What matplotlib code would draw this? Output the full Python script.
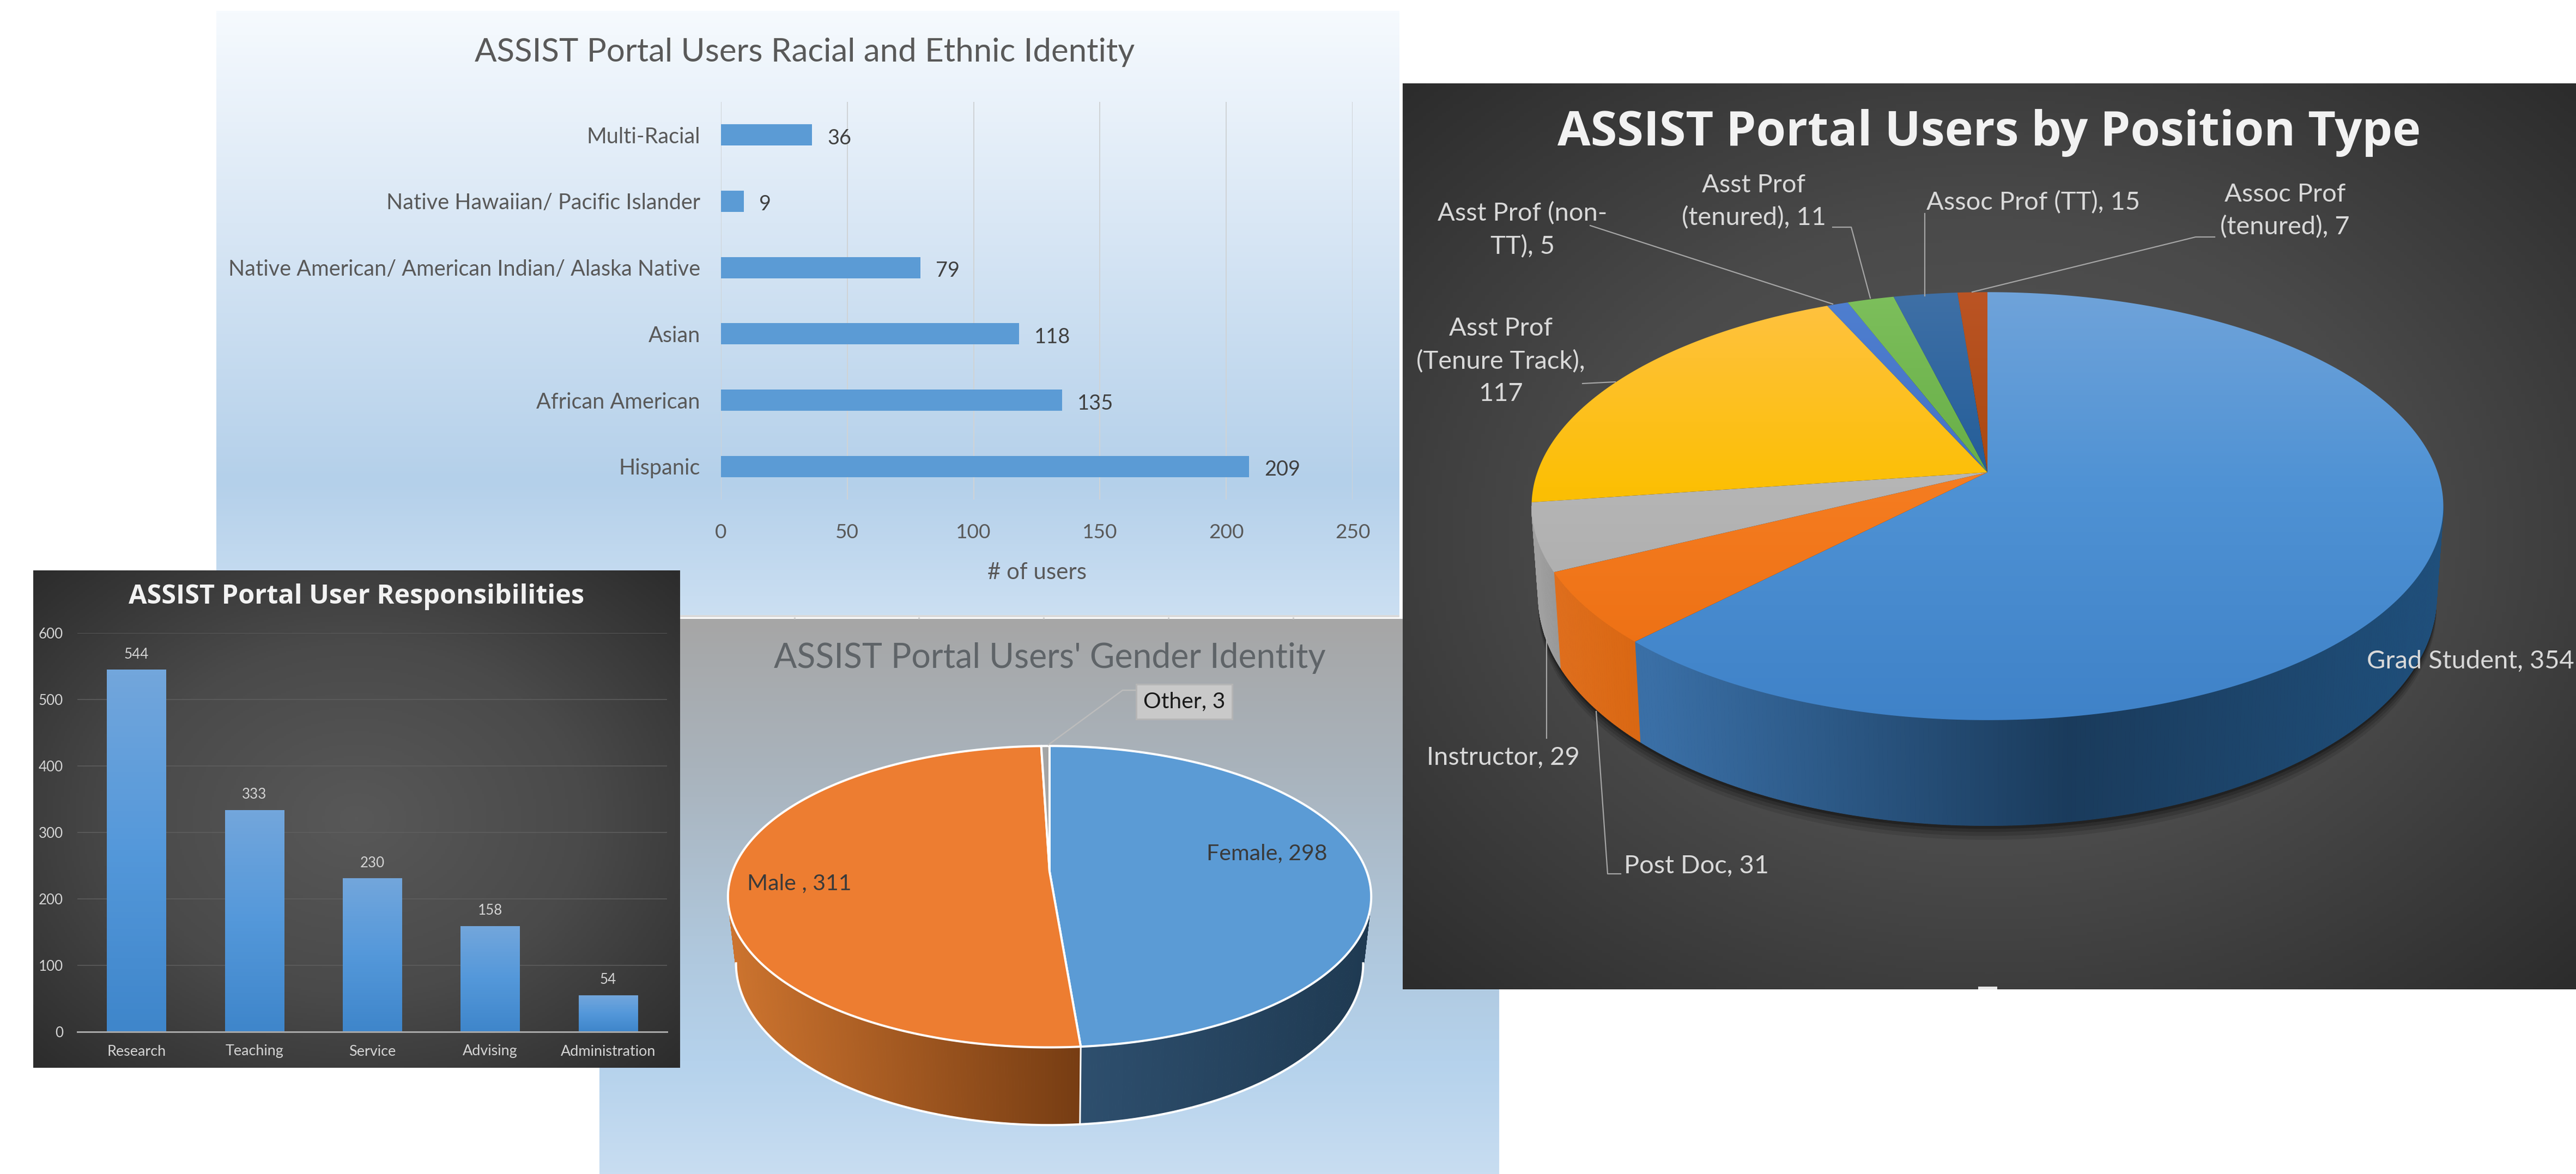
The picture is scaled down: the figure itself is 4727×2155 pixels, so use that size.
import numpy as np
import matplotlib
matplotlib.use('Agg')
import matplotlib.pyplot as plt
from matplotlib.collections import PolyCollection
from matplotlib.colors import LinearSegmentedColormap, to_rgb

# --- values ---
race_names = ['Hispanic', 'African American', 'Asian',
              'Native American/ American Indian/ Alaska Native',
              'Native Hawaiian/ Pacific Islander', 'Multi-Racial']
race_counts = [209, 135, 118, 79, 9, 36]
race_ticks = [0, 50, 100, 150, 200, 250]

resp_names = ['Research', 'Teaching', 'Service', 'Advising', 'Administration']
resp_counts = [544, 333, 230, 158, 54]
resp_ticks = [0, 100, 200, 300, 400, 500, 600]

gender_names = ['Female', 'Male ', 'Other']
gender_counts = [298, 311, 3]

position_names = ['Grad Student', 'Post Doc', 'Instructor', 'Asst Prof\n(Tenure Track)',
                  'Asst Prof (non-\nTT)', 'Asst Prof\n(tenured)', 'Assoc Prof (TT)',
                  'Assoc Prof\n(tenured)']
position_counts = [354, 31, 29, 117, 5, 11, 15, 7]

W, H = 4727, 2155
FONT = 'Lato'
TITLE_FONT = 'Open Sans'
plt.rcParams['font.family'] = [FONT, 'DejaVu Sans']


def pt(px):
    # sizes below are measured in image pixels, figure is 100 dpi
    return px * 0.72


def inner_axes(x0, y0, x1, y1):
    ax = fig.add_axes([x0 / W, 1 - y1 / H, (x1 - x0) / W, (y1 - y0) / H], zorder=5)
    ax.patch.set_alpha(0)
    return ax


def vgrad(ax, box, stops, clip=None, zorder=1):
    """vertical gradient over box = (x0, y0, x1, y1) in pixel coords"""
    cmap = LinearSegmentedColormap.from_list('g', stops)
    x0, y0, x1, y1 = box
    im = ax.imshow(np.linspace(0, 1, 256)[:, None], cmap=cmap, aspect='auto',
                   extent=(x0, x1, y1, y0), origin='upper', zorder=zorder, vmin=0, vmax=1)
    if clip is not None:
        im.set_clip_path(clip)
    return im


def dark_panel(ax, box, zorder):
    x0, y0, x1, y1 = box
    yy, xx = np.mgrid[-1:1:300j, -1:1:300j]
    r = np.clip(np.sqrt(xx ** 2 + yy ** 2) / 1.414, 0, 1)
    cmap = LinearSegmentedColormap.from_list('d', ['#585858', '#4a4a4a', '#2c2c2c'])
    ax.imshow(r, cmap=cmap, aspect='auto', extent=(x0, x1, y1, y0), zorder=zorder, vmin=0, vmax=1)


def project(t, cx, cy, R, S, k, drop=0.0, shrink=1.0):
    """clockwise angle from the top of the disc -> picture pixels, with perspective"""
    x, y = np.sin(t), np.cos(t)
    w = 1 + k * y
    return cx + shrink * R * x / w, cy - S * y / w + drop / w


def slice_angles(counts):
    edges = np.concatenate([[0], np.cumsum(counts)]) / np.sum(counts) * 2 * np.pi
    return edges[:-1], edges[1:]


def pie_side(ax, counts, geo, side_stops, zorder):
    cx, cy, R, S, k, D, shrink = geo
    verts, cols = [], []
    for a, b, stops in zip(*slice_angles(counts), side_stops):
        n = max(int((b - a) / np.radians(0.5)), 1)
        ts = np.linspace(a, b, n + 1)
        us, vals = zip(*stops)
        for t0, t1 in zip(ts[:-1], ts[1:]):
            # the far part of the wall is behind the disc
            if np.cos((t0 + t1) / 2) > -k:
                continue
            xa, ya = project(np.array([t0, t1]), cx, cy, R, S, k)
            xb, yb = project(np.array([t1, t0]), cx, cy, R, S, k, D, shrink)
            verts.append(list(zip(xa, ya)) + list(zip(xb, yb)))
            u = (xa.mean() - cx) / R
            rgb = np.array([to_rgb(c) for c in vals])
            cols.append([np.interp(u, us, rgb[:, i]) for i in range(3)])
    ax.add_collection(PolyCollection(verts, facecolors=cols, edgecolors=cols,
                                     linewidths=0.8, zorder=zorder))


def slice_poly(a, b, geo):
    cx, cy, R, S, k = geo[:5]
    ts = np.linspace(a, b, max(int((b - a) / np.radians(0.5)), 2) + 1)
    xs, ys = project(ts, cx, cy, R, S, k)
    return np.r_[cx, xs], np.r_[cy, ys]


# --- the page and its four pasted panels, in pixel coordinates ---
fig = plt.figure(figsize=(W / 100, H / 100), dpi=100, facecolor='white')
page = fig.add_axes([0, 0, 1, 1], zorder=0)
page.set_xlim(0, W)
page.set_ylim(H, 0)
page.axis('off')

# racial panel
vgrad(page, (397, 20, 2568, 1129),
      [(0, '#f6fafe'), (0.35, '#d9e7f5'), (0.78, '#b4d0ea'), (1, '#cbdff2')], zorder=1)
page.text(1477, 96, 'ASSIST Portal Users Racial and Ethnic Identity', ha='center', va='center',
          fontsize=pt(60), color='#595959', zorder=2)
# thin band where the racial panel meets the gender panel
page.fill_between([397, 2568], 1129, 1133, color='#d9d9d9', lw=0, zorder=2)

# gender panel
vgrad(page, (1100, 1136, 2751, 2155),
      [(0, '#a6a6a6'), (0.27, '#a9b3bc'), (0.62, '#b0c9df'), (0.8, '#b5d2ec'), (1, '#c8ddf1')], zorder=3)
page.vlines([1458, 1686, 1915, 2144, 2373], 1133, 1136, color='#d0d0d0', lw=pt(3), zorder=3)
page.text(1926, 1208, "ASSIST Portal Users' Gender Identity", ha='center', va='center',
          fontsize=pt(62.5), color='#5f6468', zorder=4)

GEO_G = (1926, 1600, 582, 269, 0.166, 119, 0.975)
gender_top = ['#5b9bd5', '#ed7d31', '#a5a5a5']
gender_side = [[(0.08, '#2e4f6e'), (1, '#1f3a52')],
               [(-1, '#cc732e'), (0.09, '#773d13')],
               [(-1, '#777777'), (1, '#777777')]]
pie_side(page, gender_counts, GEO_G, gender_side, 5)
# white rim of the side, from silhouette to silhouette
t_edge = np.arccos(-GEO_G[4])
t_near = np.linspace(t_edge, 2 * np.pi - t_edge, 200)
gx, gy = project(t_near, *GEO_G[:5], GEO_G[5], GEO_G[6])
page.plot(gx, gy, color='white', lw=pt(4), zorder=6)
g_a, g_b = slice_angles(gender_counts)
for a, b, c in zip(g_a, g_b, gender_top):
    xs, ys = slice_poly(a, b, GEO_G)
    page.fill(xs, ys, facecolor=c, edgecolor='white', lw=pt(4), zorder=7, joinstyle='round')
x1, y1 = project(g_b[0], *GEO_G[:5])
x2, y2 = project(g_b[0], *GEO_G[:5], GEO_G[5], GEO_G[6])
page.plot([x1, x2], [y1, y2], color='white', lw=pt(3), zorder=7)

page.text(2325, 1567, f'{gender_names[0]}, {gender_counts[0]}', ha='center', va='center',
          fontsize=pt(41), color='#3a3a3a', zorder=8)
page.text(1467, 1622, f'{gender_names[1]}, {gender_counts[1]}', ha='center', va='center',
          fontsize=pt(41), color='#3a3a3a', zorder=8)
page.plot([1924, 2060, 2085], [1367, 1267, 1267], color='#bcbcbc', lw=pt(2.5), zorder=8)
page.text(2173, 1288, f'{gender_names[2]}, {gender_counts[2]}', ha='center', va='center',
          fontsize=pt(41), color='#1a1a1a', zorder=9,
          bbox=dict(boxstyle='square,pad=0.32', fc='#c9c9c9', ec='#b5b5b5', lw=pt(3)))

# position panel
P_BOX = (2574, 153, 4727, 1816)
dark_panel(page, P_BOX, 10)
page.text(3650, 244, 'ASSIST Portal Users by Position Type', ha='center', va='center',
          fontsize=pt(88), fontweight='bold', family=[TITLE_FONT, 'DejaVu Sans'],
          color='#f2f2f2', zorder=11)

GEO_P = (3647, 867, 826, 383, 0.158, 163, 0.985)
P_FACE = (2810, 536, 4485, 1330)
pos_top = [['#6fa3da', '#4f92d4', '#3f82c8'],
           ['#f8a160', '#f57c20', '#ea6c10'],
           ['#c4c4c4', '#b5b5b5', '#a8a8a8'],
           ['#ffc243', '#fcbf05', '#e8b000'],
           ['#4f7fd0', '#4472c4', '#4472c4'],
           ['#7dbf5c', '#66ad45', '#5fa040'],
           ['#3f70a6', '#215c98', '#1f5a96'],
           ['#bb5424', '#a8480f', '#a8480f']]
pos_side = [[(-0.75, '#3a6fa6'), (0.18, '#1a3b5c'), (1, '#1f4f7b')],
            [(-1, '#e0701f'), (-0.72, '#d8650f')],
            [(-1, '#a0a0a0'), (-0.9, '#8c8c8c')],
            [(-1, '#8c8c8c'), (1, '#8c8c8c')],
            [(-1, '#2c4a80'), (1, '#2c4a80')],
            [(-1, '#466e2d'), (1, '#466e2d')],
            [(-1, '#183d5f'), (1, '#183d5f')],
            [(-1, '#67300a'), (1, '#67300a')]]

# soft shadow under the disc
t_all = np.linspace(0, 2 * np.pi, 361)
for grow, alpha in zip([22, 16, 10, 5], [0.10, 0.14, 0.18, 0.25]):
    sx, sy = project(t_all, GEO_P[0], GEO_P[1], GEO_P[2], GEO_P[3], GEO_P[4], GEO_P[5] + grow, GEO_P[6])
    page.fill(sx, sy, color='black', alpha=alpha, lw=0, zorder=11)
pie_side(page, position_counts, GEO_P, pos_side, 12)
p_a, p_b = slice_angles(position_counts)
for a, b, stops in zip(p_a, p_b, pos_top):
    xs, ys = slice_poly(a, b, GEO_P)
    poly = page.fill(xs, ys, facecolor='none', lw=0, zorder=13)[0]
    vgrad(page, P_FACE, [(0, stops[0]), (0.45, stops[1]), (1, stops[2])], clip=poly, zorder=13)

leader_paths = [
    [(2974, 1604), (2950, 1604), (2929, 1306)],
    [(2838, 1355), (2838, 1170)],
    [(2904, 704), (2964, 701)],
    [(2918, 414), (3363, 558)],
    [(3363, 417), (3397, 417), (3432, 547)],
    [(3532, 392), (3532, 543)],
    [(4064, 435), (4029, 435), (3619, 536)],
]
label_spots = [(4533, 1214), (3113, 1590), (2758, 1391), (2754, 663),
               (2794, 422), (3218, 370), (3731, 372), (4193, 387)]
for path in leader_paths:
    page.plot(*zip(*path), color='#a6a6a6', lw=pt(2.2), zorder=14)
for name, val, (lx, ly) in zip(position_names, position_counts, label_spots):
    text = f'{name}, {val}'
    if name.startswith('Asst Prof\n(Tenure'):
        text = f'{name},\n{val}'
    page.text(lx, ly, text, ha='center', va='center', fontsize=pt(47), color='#d9d9d9',
              linespacing=1.5, zorder=15)
page.plot([3632, 3662], [1813, 1813], color='#e8e8e8', lw=pt(5), zorder=15)

# responsibilities panel (on top of the racial and gender panels)
C_BOX = (61, 1047, 1248, 1960)
dark_panel(page, C_BOX, 20)
page.text(654, 1095, 'ASSIST Portal User Responsibilities', ha='center', va='center',
          fontsize=pt(48.6), fontweight='bold', family=[TITLE_FONT, 'DejaVu Sans'],
          color='#f2f2f2', zorder=21)

# --- racial bars on their own axes ---
ax_r = inner_axes(1323, 187, 2482, 917)
ax_r.barh(range(len(race_names)), race_counts, height=0.32, color='#5b9bd5', zorder=3)
ax_r.set_xlim(0, 250)
ax_r.set_ylim(-0.5, len(race_names) - 0.5)
ax_r.set_xticks(race_ticks)
ax_r.set_yticks(range(len(race_names)))
ax_r.set_yticklabels(race_names)
ax_r.grid(axis='x', color='#cfd3d6', lw=pt(2), zorder=0)
ax_r.tick_params(length=0, labelsize=pt(37), labelcolor='#595959')
ax_r.tick_params(axis='x', pad=pt(44))
ax_r.tick_params(axis='y', labelsize=pt(39.6), pad=pt(38))
for s in ax_r.spines.values():
    s.set_visible(False)
ax_r.set_xlabel('# of users', fontsize=pt(42), color='#595959', labelpad=pt(38))
for i, v in enumerate(race_counts):
    ax_r.annotate(str(v), (v, i), xytext=(pt(28), -pt(6)), textcoords='offset points', va='center',
                  fontsize=pt(38), color='#404040', zorder=4)

# --- responsibility bars ---
ax_c = inner_axes(142, 1162, 1224, 1893.5)
ax_c.set_zorder(25)
bars = ax_c.bar(range(len(resp_names)), resp_counts, width=0.5, color='none', zorder=3)
for b in bars:
    x0, wid, top = b.get_x(), b.get_width(), b.get_height()
    ax_c.imshow(np.linspace(0, 1, 64)[:, None], aspect='auto', zorder=3,
                cmap=LinearSegmentedColormap.from_list('b', ['#72a6dc', '#5498da', '#3f86cb']),
                extent=(x0, x0 + wid, 0, top), origin='upper')
ax_c.set_xlim(-0.5, len(resp_names) - 0.5)
ax_c.set_ylim(0, 600)
ax_c.set_xticks(range(len(resp_names)))
ax_c.set_xticklabels(resp_names)
ax_c.set_yticks(resp_ticks)
ax_c.grid(axis='y', color='#5f5f5f', lw=pt(1.5), zorder=0)
ax_c.tick_params(length=0, labelsize=pt(27), labelcolor='#d4d4d4')
ax_c.tick_params(axis='x', pad=pt(24))
ax_c.tick_params(axis='y', labelsize=pt(26), pad=pt(26))
for name, s in ax_c.spines.items():
    s.set_visible(name == 'bottom')
ax_c.spines['bottom'].set_color('#a8a8a8')
ax_c.spines['bottom'].set_linewidth(pt(3))
for i, v in enumerate(resp_counts):
    ax_c.annotate(str(v), (i, v), xytext=(0, pt(29)), textcoords='offset points', ha='center', va='center',
                  fontsize=pt(26), color='#d4d4d4')

page.set_xlim(0, W)
page.set_ylim(H, 0)
fig.savefig('out.png', dpi=100, facecolor='white')
